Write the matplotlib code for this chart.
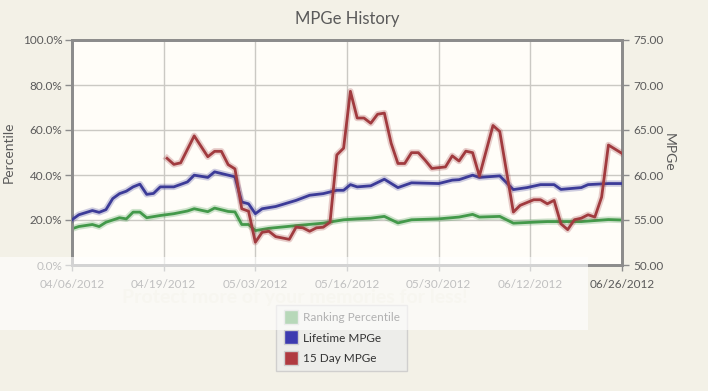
import matplotlib
matplotlib.use("Agg")
import matplotlib.pyplot as plt
import matplotlib.patheffects as pe
from matplotlib.patches import Rectangle
from matplotlib.lines import Line2D

plt.rcParams['font.family'] = ['Lato', 'DejaVu Sans']

# ---- data (day offset from 04/06/2012) ----
rank_days = [0, 1, 3, 4, 5, 7, 8, 9, 10, 11, 13, 15, 17, 18, 20, 21, 23, 24, 25, 26, 27, 29, 33, 37,
             40, 42, 44, 46, 48, 50, 54, 57, 59, 60, 63, 65, 70, 75, 79, 81]
rank_pct = [16.1, 17.1, 18.0, 17.1, 19.0, 21.0, 20.5, 23.5, 23.5, 21.0, 22.0, 22.8, 24.0, 25.0, 23.7,
            25.3, 23.8, 23.6, 18.0, 18.0, 15.3, 16.3, 17.5, 18.6, 20.1, 20.5, 20.8, 21.6, 18.7, 20.1,
            20.5, 21.3, 22.5, 21.3, 21.6, 18.6, 19.3, 19.3, 20.2, 20.0]

life_days = [0, 1, 3, 4, 5, 6, 7, 8, 9, 10, 11, 12, 13, 15, 17, 18, 20, 21, 24, 25, 26, 27, 28, 30,
             33, 35, 37, 39, 40, 41, 42, 44, 46, 48, 50, 54, 56, 57, 59, 60, 63, 65, 67, 69, 71, 72,
             75, 76, 79, 81]
life_mpge = [55.03, 55.58, 56.05, 55.85, 56.15, 57.38, 57.93, 58.2, 58.68, 58.98, 57.85, 57.95, 58.68,
             58.68, 59.23, 59.98, 59.73, 60.35, 59.8, 57.0, 56.8, 55.7, 56.25, 56.5, 57.18, 57.75,
             57.93, 58.3, 58.3, 58.93, 58.68, 58.8, 59.53, 58.6, 59.13, 59.05, 59.43, 59.48, 59.98,
             59.73, 59.9, 58.38, 58.6, 58.93, 58.93, 58.4, 58.6, 58.93, 59.05, 59.05]

day15_days = [14, 15, 16, 18, 20, 21, 22, 23, 24, 25, 26, 27, 28, 29, 30, 32, 33, 34, 35, 36, 37, 38,
              39, 40, 41, 42, 43, 44, 45, 46, 47, 48, 49, 50, 51, 52, 53, 55, 56, 57, 58, 59, 60, 62,
              63, 65, 66, 68, 69, 70, 71, 72, 73, 74, 75, 76, 77, 78, 79, 81]
day15_mpge = [61.85, 61.18, 61.35, 64.35, 62.03, 62.63, 62.63, 61.15, 60.68, 56.25, 55.98, 52.53,
              53.63, 53.75, 53.15, 52.85, 54.2, 54.13, 53.75, 54.13, 54.2, 54.75, 62.23, 62.98,
              69.3, 66.33, 66.33, 65.75, 66.75, 66.88, 63.53, 61.28, 61.28, 62.48, 62.48, 61.65,
              60.73, 60.9, 62.13, 61.55, 62.65, 62.48, 59.88, 65.5, 64.83, 55.88, 56.63, 57.25,
              57.25, 56.8, 57.18, 54.58, 53.93, 55.03, 55.2, 55.58, 55.33, 57.55, 63.33, 62.4]

tick_labels = ["04/06/2012", "04/19/2012", "05/03/2012", "05/16/2012", "05/30/2012",
               "06/12/2012", "06/26/2012"]
series_names = ["Ranking Percentile", "Lifetime MPGe", "15 Day MPGe"]

# ---- style ----
fig_bg = "#f3f1e7"
plot_bg = "#fffdf8"
green, blue, red = "#43994a", "#3c3b98", "#a13b3f"
spine_c = "#8c8c8c"
text_c = "#5a5a5a"

fig = plt.figure(figsize=(7.08, 3.91), dpi=100, facecolor=fig_bg)
ax = fig.add_axes([72/708, 1-265/391, 550/708, 225/391])
ax.set_facecolor(plot_bg)
ax2 = ax.twinx()

def glow(c):
    return [pe.Stroke(linewidth=4.6, foreground=c, alpha=0.25), pe.Normal()]

ax.plot(rank_days, rank_pct, color=green, lw=2.0, path_effects=glow(green), zorder=3,
        solid_joinstyle='round')
ax2.plot(life_days, life_mpge, color=blue, lw=2.0, path_effects=glow(blue), zorder=3,
         solid_joinstyle='round')
ax2.plot(day15_days, day15_mpge, color=red, lw=2.0, path_effects=glow(red), zorder=4,
         solid_joinstyle='round')

ax.set_xlim(0, 81)
ax.set_ylim(0, 100)
ax2.set_ylim(50, 75)

xt = [i * 13.5 for i in range(7)]
ax.set_xticks(xt)
ax.set_xticklabels(tick_labels)
ax.set_yticks([0, 20, 40, 60, 80, 100])
ax.set_yticklabels([f"{v:.1f}%" for v in [0, 20, 40, 60, 80, 100]])
ax2.set_yticks([50, 55, 60, 65, 70, 75])
ax2.set_yticklabels([f"{v:.2f}" for v in [50, 55, 60, 65, 70, 75]])

ax.grid(True, color="#cbc9c4", lw=1.0)
ax.set_axisbelow(True)

for a in (ax, ax2):
    for s in a.spines.values():
        s.set_color(spine_c)
        s.set_linewidth(2.0)
    a.tick_params(colors=spine_c, labelcolor=text_c, labelsize=8.5, length=5, width=1)
ax.tick_params(axis='x', pad=6, labelsize=8.5, length=4)
ax.tick_params(axis='y', pad=2)
ax2.tick_params(axis='y', pad=3)

ax.set_ylabel("Percentile", color=text_c, fontsize=10, labelpad=6)
ax2.set_ylabel("MPGe", color=text_c, fontsize=10, rotation=-90, labelpad=8)
fig.text(347/708, 1-19/391, "MPGe History", ha='center', va='center', fontsize=12, color=text_c)

# legend
handles = [Line2D([], [], marker='s', ls='none', markersize=10, markerfacecolor=c,
                  markeredgecolor="#cfcfcf", markeredgewidth=1)
           for c in (green, "#3d3bb0", "#b03a40")]
leg = fig.legend(handles, series_names, loc='upper left',
                 bbox_to_anchor=(276/708, 1-305/391), frameon=True, fontsize=8.5,
                 labelspacing=0.8, handletextpad=0.4, borderpad=0.6, handlelength=1.3,
                 borderaxespad=0, fancybox=False)
leg.get_frame().set_facecolor("#ececec")
leg.get_frame().set_edgecolor("#c8c8c8")
leg.get_frame().set_linewidth(1.0)
for t in leg.get_texts():
    t.set_color("#333333")

# watermark band overlay
band = Rectangle((0, 1-330/391), 588/708, 73/391, transform=fig.transFigure,
                 facecolor="white", alpha=0.62, edgecolor='none', zorder=10)
fig.patches.append(band)
fig.text(295/708, 1-297/391, "Protect more of your memories for less!", ha='center',
         va='center', fontsize=14, fontweight='bold', color="#f3f1e7", alpha=0.35, zorder=11)

fig.savefig("out.png", dpi=100, facecolor=fig_bg)
